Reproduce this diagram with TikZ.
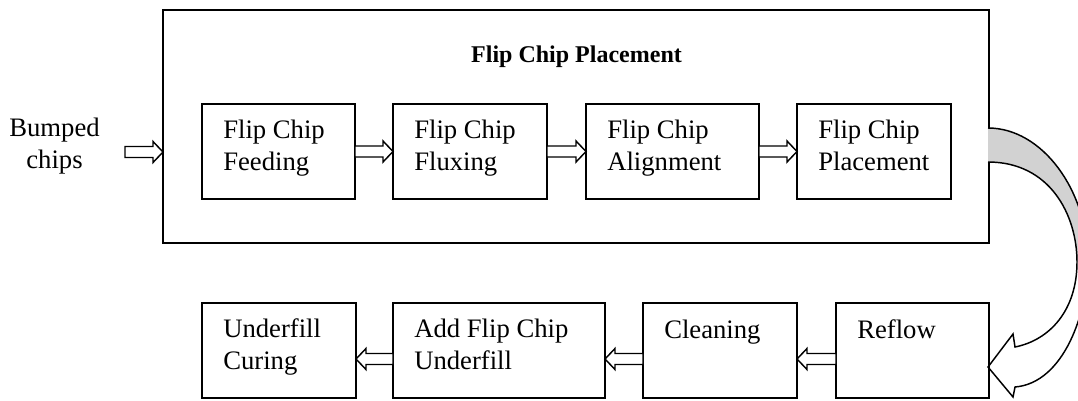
\documentclass[tikz,border=0pt]{standalone}
\usepackage{fontspec}
\setmainfont{Liberation Serif}
\usetikzlibrary{calc,fit}

% hollow block arrow along a horizontal line: tail, tip, direction (+1 right, -1 left)
\newcommand\flowarrow[3]{%
  \draw[blockarrow]
    ($#1+(0,-5.5)$) -- ($#2+(-10*#3,-5.5)$) -- ($#2+(-10*#3,-10.5)$) -- #2
    -- ($#2+(-10*#3,10.5)$) -- ($#2+(-10*#3,5.5)$) -- ($#1+(0,5.5)$) -- cycle;}

% process box with text set at its upper left; #5 = baseline of the last line below the top edge
\newcommand\stepbox[5]{%
  \node[box, fit={#2 #3}] (#1) {};
  \node[txt] (#1-t) at ($(#1.north west)+(21,#5)$) {#4};}

\begin{document}
\begin{tikzpicture}[x=0.75pt, y=-0.75pt,
  box/.style={draw, line width=1.1pt, inner sep=0pt, outer sep=0pt},
  frame/.style={draw, line width=1.4pt, inner sep=0pt, outer sep=0pt},
  txt/.style={font=\fontsize{20pt}{23.5pt}\selectfont, align=left, inner sep=0pt, anchor=base west},
  blockarrow/.style={draw, fill=white, line width=1.1pt, line join=miter},
  curvearrow/.style={draw, line width=1.1pt, line join=miter}]
\useasboundingbox (0,0) rectangle (1078,400);

% outer frame of the placement stage
\node[frame, fit={(163,10) (989,243)}] (frame) {};
\node[font=\bfseries\fontsize{18pt}{20pt}\selectfont, anchor=base, inner sep=0pt] (title) at (576.5,62) {Flip Chip Placement};

% placement steps
\stepbox{b1}{(202,104)}{(355,199)}{Flip Chip\\Feeding}{66.3}
\stepbox{b2}{(393,104)}{(547,199)}{Flip Chip\\Fluxing}{66.3}
\stepbox{b3}{(586,104)}{(759,199)}{Flip Chip\\Alignment}{66.3}
\stepbox{b4}{(797,104)}{(951,199)}{Flip Chip\\Placement}{66.3}

% following steps
\stepbox{c1}{(202,303)}{(356,398)}{Underfill\\Curing}{66.3}
\stepbox{c2}{(393,303)}{(605,398)}{Add Flip Chip\\Underfill}{66.3}
\stepbox{c3}{(643,303)}{(797,398)}{Cleaning}{35}
\stepbox{c4}{(836,303)}{(989,398)}{Reflow}{35}

% input
\node[txt, align=center, anchor=base] (bumped) at (54.5,168) {Bumped\\chips};
\coordinate (in) at (125,152);
\coordinate (inend) at (frame.west |- in);

% block arrows
\flowarrow{(in)}{(inend)}{1}
\flowarrow{(b1.east)}{(b2.west)}{1}
\flowarrow{(b2.east)}{(b3.west)}{1}
\flowarrow{(b3.east)}{(b4.west)}{1}
\coordinate (c4w) at ($(c4.west)+(0,8.5)$);
\coordinate (c3e) at ($(c3.east)+(0,8.5)$);
\coordinate (c3w) at ($(c3.west)+(0,8.5)$);
\coordinate (c2e) at ($(c2.east)+(0,8.5)$);
\coordinate (c2w) at ($(c2.west)+(0,8.5)$);
\coordinate (c1e) at ($(c1.east)+(0,8.5)$);
\flowarrow{(c4w)}{(c3e)}{-1}
\flowarrow{(c3w)}{(c2e)}{-1}
\flowarrow{(c2w)}{(c1e)}{-1}

% curved arrow from the placement stage down to reflow
\coordinate (bendtip) at (988,367);
\begin{scope}
  \clip (0,0) rectangle (1078,400);
  \fill[gray!35] (988,128) .. controls (1042,128) and (1088,190) .. (1088,262)
    -- (1077,262) .. controls (1077,215) and (1050,162) .. (988,162) -- cycle;
  \draw[curvearrow] (988,128) .. controls (1042,128) and (1088,190) .. (1088,262)
    .. controls (1088,312) and (1064,383) .. (1015,387)
    -- (1013,397) -- (bendtip) -- (1013,334) -- (1015,347)
    .. controls (1050,340) and (1077,310) .. (1077,262)
    .. controls (1077,215) and (1050,162) .. (988,162);
\end{scope}
\end{tikzpicture}
\end{document}
